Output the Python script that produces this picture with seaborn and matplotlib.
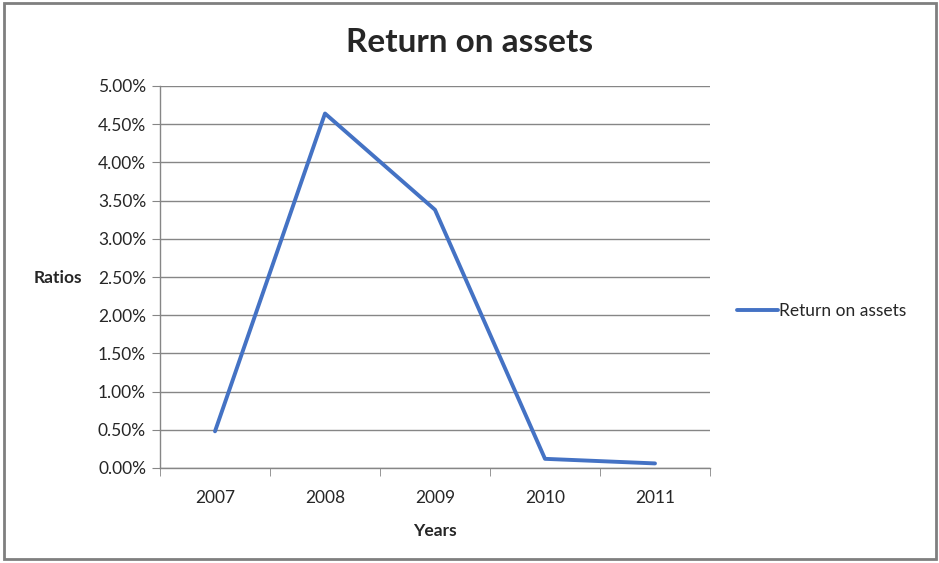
import pandas as pd
import matplotlib.pyplot as plt
import matplotlib.ticker as mticker
import seaborn as sns

years = ["2007", "2008", "2009", "2010", "2011"]
roa = [0.0048, 0.0464, 0.0338, 0.0012, 0.0006]
y_ticks = [0.0, 0.005, 0.01, 0.015, 0.02, 0.025, 0.03, 0.035, 0.04, 0.045, 0.05]

df = pd.DataFrame({"Years": years, "Ratios": roa, "series": "Return on assets"})

sns.set_style("white")
plt.rcParams["font.family"] = ["Lato", "DejaVu Sans"]

fig = plt.figure(figsize=(9.39, 5.63), dpi=100)
ax = fig.add_axes([160 / 939, 1 - 468 / 563, 550 / 939, 382 / 563])

line_color = "#4472C4"
grid_color = "#868686"
fs = 12.5

sns.lineplot(data=df, x="Years", y="Ratios", hue="series", palette=[line_color],
             linewidth=2.8, ax=ax, sort=False)

ax.set_xlim(-0.5, len(years) - 0.5)
ax.set_ylim(0, 0.05)
ax.set_yticks(y_ticks)
ax.yaxis.set_major_formatter(mticker.PercentFormatter(xmax=1, decimals=2))
ax.set_xticks(range(len(years)))
ax.set_xticklabels(years)
ax.set_xticks([i - 0.5 for i in range(len(years) + 1)], minor=True)

ax.grid(axis="y", color=grid_color, linewidth=1)
ax.set_axisbelow(True)
for side in ["top", "right"]:
    ax.spines[side].set_visible(False)
for side in ["left", "bottom"]:
    ax.spines[side].set_color(grid_color)
    ax.spines[side].set_linewidth(1)

ax.tick_params(axis="y", which="major", direction="out", length=6, color=grid_color,
               labelsize=fs, pad=4, left=True)
ax.tick_params(axis="x", which="major", length=0, labelsize=fs, pad=16)
ax.tick_params(axis="x", which="minor", direction="out", length=6, color=grid_color,
               bottom=True)

ax.set_xlabel("Years", fontsize=fs, fontweight="bold", labelpad=12)
ax.set_ylabel("Ratios", fontsize=fs, fontweight="bold", rotation=0, va="center")
ax.yaxis.set_label_coords(-0.185, 0.497)

fig.text(470 / 939, 1 - 42 / 563, "Return on assets", fontsize=24, fontweight="bold",
         ha="center", va="center")

leg = ax.legend(loc="center left", bbox_to_anchor=(1.02, 0.41), frameon=False,
                fontsize=fs, handlelength=2.4, handletextpad=0.05)
for h in leg.get_lines():
    h.set_linewidth(2.8)

# outer chart border
fig.patches.append(plt.Rectangle((4 / 939, 4 / 563), 932 / 939, 556 / 563,
                                 transform=fig.transFigure, fill=False,
                                 edgecolor="#7f7f7f", linewidth=2))

fig.savefig("out.png", dpi=100)
